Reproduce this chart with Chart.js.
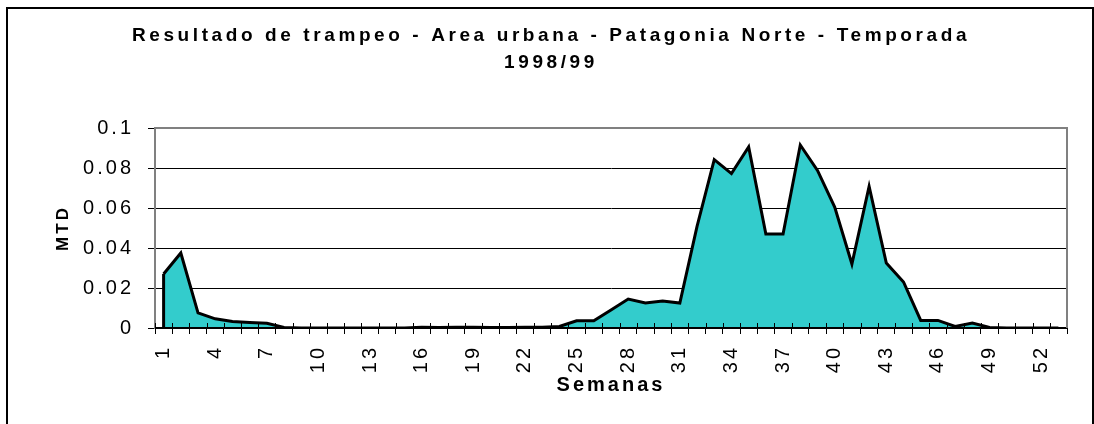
<!DOCTYPE html>
<html>
<head>
<meta charset="utf-8">
<title>Resultado de trampeo - Patagonia Norte 1998/99</title>
<script src="https://cdn.jsdelivr.net/npm/chart.js@4.4.1/dist/chart.umd.min.js"></script>
<style>
  html, body { margin: 0; padding: 0; background: #fff; }
  #wrap { width: 1094px; height: 424px; }
</style>
</head>
<body>
<div id="wrap"><canvas id="mtdChart" width="1094" height="424"></canvas></div>
<script>
// semanas del año (eje X)
const semanas = ['1','2','3','4','5','6','7','8','9','10','11','12','13','14','15','16','17','18',
  '19','20','21','22','23','24','25','26','27','28','29','30','31','32','33','34','35','36',
  '37','38','39','40','41','42','43','44','45','46','47','48','49','50','51','52','53'];

// MTD por semana
const mtd = [0.027, 0.0375, 0.0076, 0.0046, 0.0032, 0.0028, 0.0024, 0.0003, 0, 0,
  0, 0, 0, 0, 0, 0.0004, 0.0002, 0.0004, 0.0004, 0.0002,
  0.0002, 0.0004, 0.0004, 0.0008, 0.0036, 0.0036, 0.009, 0.0145, 0.0125, 0.0135,
  0.0125, 0.0508, 0.0842, 0.0772, 0.0905, 0.047, 0.047, 0.0915, 0.0788, 0.0605,
  0.032, 0.0708, 0.0325, 0.023, 0.0038, 0.0038, 0.0008, 0.0025, 0.0003, 0,
  0, 0, 0];

const tituloLineas = ['Resultado de trampeo - Area urbana - Patagonia Norte - Temporada', '1998/99'];
const yMin = 0, yMax = 0.1, yPaso = 0.02;

Chart.defaults.font.family = '"Liberation Sans", Arial, sans-serif';
Chart.defaults.color = '#000';

// Excel-like letter spacing for every text on the canvas
const espaciado = {
  id: 'espaciado',
  beforeUpdate(chart) { chart.ctx.letterSpacing = '3px'; },
  beforeDraw(chart) { chart.ctx.letterSpacing = '3px'; }
};

// outer frame + white background
const marco = {
  id: 'marco',
  beforeDraw(chart) {
    const ctx = chart.ctx;
    ctx.save();
    ctx.fillStyle = '#fff';
    ctx.fillRect(0, 0, chart.width, chart.height);
    ctx.strokeStyle = '#000';
    ctx.lineWidth = 2;
    ctx.strokeRect(7, 8, 1086, 440);
    ctx.restore();
  }
};

// title drawn by hand (wide letter spacing)
const titulo = {
  id: 'titulo',
  afterDraw(chart) {
    const ctx = chart.ctx;
    ctx.save();
    ctx.letterSpacing = '3.6px';
    ctx.font = 'bold 19px "Liberation Sans", Arial, sans-serif';
    ctx.fillStyle = '#000';
    ctx.textAlign = 'center';
    ctx.textBaseline = 'alphabetic';
    tituloLineas.forEach((t, i) => ctx.fillText(t, 551, 41 + i * 27));
    ctx.restore();
  }
};

// area edges, baseline, cross ticks and grey plot border
const bordes = {
  id: 'bordes',
  afterDatasetsDraw(chart) {
    const ctx = chart.ctx;
    const area = chart.chartArea;
    const x = chart.scales.x, y = chart.scales.y;
    const base = y.getPixelForValue(0);
    const p0 = chart.getDatasetMeta(0).data[0];
    ctx.save();
    ctx.strokeStyle = '#000';
    ctx.lineWidth = 2;
    ctx.beginPath();
    ctx.moveTo(area.left, base);
    ctx.lineTo(area.right, base);
    ctx.stroke();

    ctx.lineWidth = 3;
    ctx.beginPath();
    ctx.moveTo(p0.x, base);
    ctx.lineTo(p0.x, p0.y);
    ctx.stroke();

    ctx.lineWidth = 1;
    const half = (x.getPixelForValue(1) - x.getPixelForValue(0)) / 2;
    for (let i = 0; i <= semanas.length; i++) {
      const px = Math.round(x.getPixelForValue(i) - half) + 0.5;
      ctx.beginPath();
      ctx.moveTo(px, base - 5);
      ctx.lineTo(px, base);
      ctx.stroke();
    }

    ctx.strokeStyle = '#808080';
    ctx.lineWidth = 2;
    ctx.beginPath();
    ctx.moveTo(area.left, area.top);
    ctx.lineTo(area.right, area.top);
    ctx.lineTo(area.right, base);
    ctx.stroke();
    ctx.restore();
  }
};

const ctx = document.getElementById('mtdChart').getContext('2d');
const chart = new Chart(ctx, {
  type: 'line',
  data: {
    labels: semanas,
    datasets: [{
      label: 'MTD',
      data: mtd,
      fill: 'origin',
      backgroundColor: '#33CCCC',
      borderColor: '#000',
      borderWidth: 3,
      borderJoinStyle: 'miter',
      pointRadius: 0,
      tension: 0
    }]
  },
  options: {
    responsive: false,
    animation: false,
    layout: { padding: { top: 128, right: 27, left: 0, bottom: 0 } },
    plugins: {
      legend: { display: false },
      tooltip: { enabled: false },
      title: { display: false }
    },
    scales: {
      x: {
        offset: true,
        grid: { offset: true, drawOnChartArea: false, drawTicks: true, tickLength: 6, color: '#000', lineWidth: 1 },
        border: { color: '#000', width: 2 },
        ticks: {
          autoSkip: false,
          minRotation: 90,
          maxRotation: 90,
          padding: 11,
          font: { size: 20 },
          callback: function(v, i) { return i % 3 === 0 ? this.getLabelForValue(v) : ''; }
        },
        title: {
          display: true,
          text: 'Semanas',
          font: { size: 20, weight: 'bold' },
          padding: { top: 0, bottom: 27 }
        },
        afterFit(scale) { scale.height = 96; }
      },
      y: {
        min: yMin,
        max: yMax,
        ticks: {
          stepSize: yPaso,
          padding: 14,
          font: { size: 20 },
          callback: v => String(Number(v.toFixed(2)))
        },
        grid: { color: '#000', lineWidth: 1, tickLength: 7 },
        border: { color: '#808080', width: 2 },
        title: {
          display: true,
          text: 'MTD',
          font: { size: 17, weight: 'bold' },
          padding: { top: 53, bottom: 0 }
        },
        afterFit(scale) { scale.width = 155; }
      }
    }
  },
  plugins: [espaciado, marco, titulo, bordes]
});
</script>
</body>
</html>
